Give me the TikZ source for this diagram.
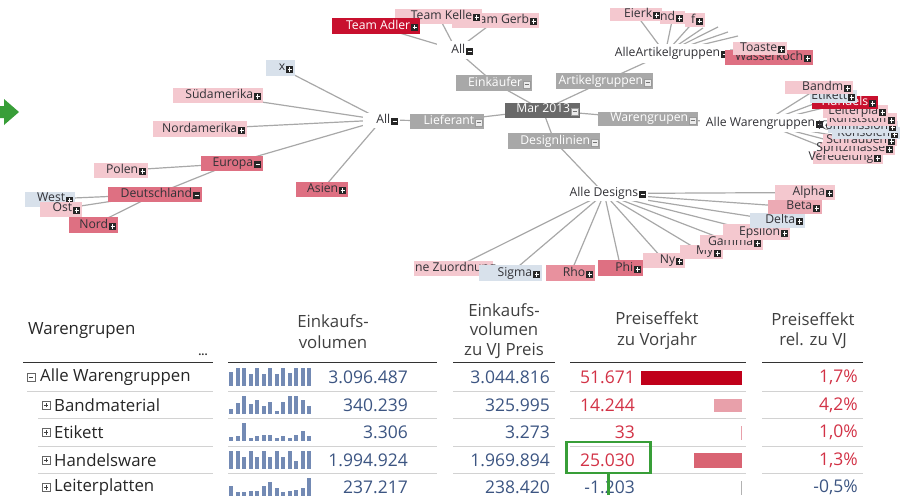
\documentclass[tikz,border=0pt]{standalone}
\usepackage{fontspec}
\setmainfont{Open Sans}
\usetikzlibrary{backgrounds}
\definecolor{cL}{RGB}{244,200,207}
\definecolor{cM}{RGB}{222,112,130}
\definecolor{cD}{RGB}{200,16,46}
\definecolor{cB}{RGB}{216,225,235}
\definecolor{cG}{RGB}{168,168,168}
\definecolor{cK}{RGB}{105,105,105}
\definecolor{cP}{RGB}{236,170,180}
\definecolor{cR}{RGB}{232,145,158}
\definecolor{lineG}{RGB}{168,168,168}
\definecolor{txtD}{RGB}{50,50,55}
\definecolor{valB}{RGB}{60,85,130}
\definecolor{valR}{RGB}{210,50,70}
\definecolor{sparkC}{RGB}{115,138,180}
\definecolor{sepG}{RGB}{210,210,210}
\definecolor{grn}{RGB}{56,158,56}
\definecolor{barD}{RGB}{192,0,26}
\definecolor{barL}{RGB}{232,160,170}
\definecolor{barM}{RGB}{217,100,115}
\newcommand\gfont{\fontsize{12.2}{14}\selectfont}
\newcommand\tfont{\fontsize{16.8}{20.5}\selectfont}
\newcommand\nfont{\fontsize{17.5}{20}\selectfont}
\tikzset{
  gbox/.style={anchor=west,inner sep=0pt,font=\gfont,text=txtD},
  bL/.style={fill=cL,text=txtD}, bM/.style={fill=cM,text=txtD},
  bD/.style={fill=cD,text=white}, bB/.style={fill=cB,text=txtD},
  bG/.style={fill=cG,text=white}, bK/.style={fill=cK,text=white},
  bP/.style={fill=cP,text=txtD}, bR/.style={fill=cR,text=txtD},
  tW/.style={fill=white,text=txtD},
  icoB/.style={minimum size=7pt,inner sep=0pt,fill=black!85},
  pI/.style={icoB,path picture={\draw[white,line width=1.1pt]
     ([xshift=-2.3pt]path picture bounding box.center) -- ([xshift=2.3pt]path picture bounding box.center)
     ([yshift=-2.3pt]path picture bounding box.center) -- ([yshift=2.3pt]path picture bounding box.center);}},
  mI/.style={icoB,path picture={\draw[white,line width=1.1pt]
     ([xshift=-2.3pt]path picture bounding box.center) -- ([xshift=2.3pt]path picture bounding box.center);}},
  mW/.style={minimum size=7pt,inner sep=0pt,fill=white!92!black,draw=white!60!black,line width=0.4pt,
     path picture={\draw[black!55,line width=1pt]
     ([xshift=-2.2pt]path picture bounding box.center) -- ([xshift=2.2pt]path picture bounding box.center);}},
  conn/.style={draw=lineG,line width=1.2pt},
  tlab/.style={font=\tfont,text=black!85,inner sep=0pt},
  tval/.style={font=\nfont,text=valB,inner sep=0pt,anchor=east},
  tred/.style={font=\nfont,text=valR,inner sep=0pt,anchor=east},
  thead/.style={font=\tfont,text=black!75,align=center,inner sep=0pt},
  hline/.style={draw=black!80,line width=1.4pt},
  sline/.style={draw=sepG,line width=1pt},
  tico/.style={minimum size=8pt,inner sep=0pt,draw=black!60,fill=white,line width=0.6pt},
  tP/.style={tico,path picture={\draw[black!75,line width=0.8pt]
     ([xshift=-2.3pt]path picture bounding box.center) -- ([xshift=2.3pt]path picture bounding box.center)
     ([yshift=-2.3pt]path picture bounding box.center) -- ([yshift=2.3pt]path picture bounding box.center);}},
  tM/.style={tico,path picture={\draw[black!75,line width=0.8pt]
     ([xshift=-2.3pt]path picture bounding box.center) -- ([xshift=2.3pt]path picture bounding box.center);}},
  sparkbar/.style={fill=sparkC}
}
% name, x1, yc, width, height, box style, icon style, text
\newcommand\gn[8]{%
  \node[gbox,#6,minimum height=#5pt] (#1) at (#2,#3) {\makebox[#4pt][r]{\vphantom{Ag}#8\hspace{10pt}}};%
  \node[#7] (#1i) at ([xshift=-5.5pt,yshift=-1.2pt]#1.east) {};%
}
\newcommand\spk[2]{\foreach \h [count=\i] in {#2} \fill[sparkbar] ({229+(\i-1)*6.5},#1) rectangle ++(4.2,-\h);}
\begin{document}
\begin{tikzpicture}[x=1pt,y=-1pt]
\path[use as bounding box] (0,0) rectangle (901,495);
% green arrow
\fill[grn] (0,106) -- (4,106) -- (4,99) -- (19,112) -- (4,125) -- (4,118) -- (0,118) -- cycle;
% ---------- left tree
\gn{xN}{266}{68}{29}{16}{bB}{pI}{x}
\gn{sued}{173}{95.5}{90}{15}{bL}{pI}{Südamerika}
\gn{nord}{153}{129}{94}{16}{bL}{pI}{Nordamerika}
\gn{europa}{201}{163.5}{62}{15}{bM}{mI}{Europa}
\gn{asien}{296}{189.5}{52}{15}{bM}{pI}{Asien}
\gn{polen}{94}{170.5}{54}{15}{bL}{pI}{Polen}
\gn{deut}{108}{194.5}{94}{15}{bM}{mI}{Deutschland}
\gn{west}{25}{199}{50}{15}{bB}{pI}{West}
\gn{ost}{40}{209}{42}{15}{bL}{pI}{Ost}
\gn{nordN}{69}{225}{49}{16}{bM}{pI}{Nord}
\gn{allL}{363}{120}{37}{15}{tW}{mI}{All}
% ---------- centre
\gn{lief}{410}{121}{74}{15}{bG}{mW}{Lieferant}
\gn{mar}{505}{110}{75}{15}{bK}{mW}{Mar 2013}
\gn{eink}{456}{83}{76}{16}{bG}{mW}{Einkäufer}
\gn{artg}{556}{81}{97}{16}{bG}{mW}{Artikelgruppen}
\gn{wareng}{598}{119}{100}{14}{bG}{mW}{Warengrupen}
\gn{design}{508}{141}{92}{16}{bG}{mW}{Designlinien}
\gn{allT}{437}{50}{38}{17}{tW}{mI}{All}
% ---------- top teams
\gn{gerb}{452}{20.5}{87}{15}{bL}{pI}{Team Gerb}
\gn{kelle}{395}{16.5}{87}{15}{bL}{pI}{Team Kelle}
\gn{adler}{332}{26}{88}{16}{bD}{pI}{Team Adler}
% ---------- Artikelgruppen
\gn{aag}{600}{53.5}{130}{19}{tW}{mI}{AlleArtikelgruppen}
\gn{eierk}{610}{14.5}{52}{13}{bL}{pI}{Eierk}
\gn{ndN}{660}{17.5}{25}{12}{bL}{pI}{nd}
\gn{fN}{685}{20}{20}{14}{bL}{pI}{f}
\gn{wass}{725}{57.5}{88}{15}{bM}{pI}{Wasserkoch}
\gn{toast}{733}{48.5}{54}{13}{bL}{pI}{Toaste}
\coordinate (a1) at (703,28);
\coordinate (a2) at (718,27);
\coordinate (a3) at (728,32);
\coordinate (a4) at (738,36);
% ---------- Warengruppen
\gn{awg}{700}{123}{125}{18}{tW}{mI}{Alle Warengruppen}
\gn{vered}{813}{157}{70}{13}{bL}{pI}{Veredelung}
\gn{spritz}{820}{148}{75}{13}{bL}{pI}{Spritzmasse}
\gn{schr}{823}{140}{74}{12}{bL}{pI}{Schrauben}
\gn{kons}{832}{133}{68}{12}{bB}{pI}{Konsolen}
\gn{komm}{828}{126.5}{70}{12}{bB}{pI}{Kommission}
\gn{kunst}{827}{119.5}{70}{12}{bL}{pI}{Kunststoff}
\gn{leiter}{823}{111.5}{65}{12}{bL}{pI}{Leiterpla}
\gn{handels}{812}{102.5}{66}{12}{bD}{pI}{Handels}
\gn{etik}{810}{96.5}{47}{12}{bB}{pI}{Etikett}
\gn{bandm}{785}{87.5}{68}{12}{bL}{pI}{Bandm}
% ---------- Designs
\gn{adesign}{560}{193.5}{88}{15}{tW}{mI}{Alle Designs}
\node[gbox,bL,minimum height=15pt] (zuord) at (414,268.5) {\makebox[79pt][l]{\vphantom{Ag}\hspace{1pt}ne Zuordnung}};
\gn{sigma}{479}{273}{63}{16}{bB}{pI}{Sigma}
\gn{rho}{546}{273}{49}{16}{bR}{pI}{Rho}
\gn{phi}{598}{268}{45}{16}{bM}{pI}{Phi}
\gn{ny}{643}{260.5}{42}{15}{bL}{pI}{Ny}
\gn{my}{680}{252}{43}{14}{bL}{pI}{My}
\gn{gamma}{700}{242.5}{63}{15}{bL}{pI}{Gamma}
\gn{eps}{723}{232}{67}{16}{bL}{pI}{Epsilon}
\gn{delta}{750}{220.5}{55}{15}{bB}{pI}{Delta}
\gn{beta}{768}{207}{54}{14}{bP}{pI}{Beta}
\gn{alpha}{775}{192.5}{60}{15}{bL}{pI}{Alpha}
% ---------- connectors
\begin{scope}[on background layer]
\foreach \n in {xN,sued,nord,europa,asien,lief} \draw[conn] (allL.center) -- (\n.center);
\foreach \n in {polen,deut} \draw[conn] (europa.center) -- (\n.center);
\foreach \n in {west,ost,nordN} \draw[conn] (deut.center) -- (\n.center);
\foreach \n in {eink,artg,wareng,design} \draw[conn] (mar.center) -- (\n.center);
\draw[conn] (lief.center) -- (mar.center);
\draw[conn] (eink.center) -- (allT.center);
\foreach \n in {adler,kelle,gerb} \draw[conn] (allT.center) -- (\n.center);
\draw[conn] (artg.center) -- (aag.center);
\foreach \n in {eierk,ndN,fN,a1,a2,a3,a4,toast,wass} \draw[conn] (aag.center) -- (\n.center);
\draw[conn] (wareng.center) -- (awg.center);
\foreach \n in {bandm,etik,handels,leiter,kunst,komm,kons,schr,spritz,vered} \draw[conn] (awg.center) -- (\n.center);
\draw[conn] (design.center) -- (adesign.center);
\foreach \n in {zuord,sigma,rho,phi,ny,my,gamma,eps,delta,beta,alpha} \draw[conn] (adesign.center) -- (\n.center);
\end{scope}
% ---------- table header
\node[tlab,anchor=west] (th1) at (28,331) {Warengrupen};
\node[inner sep=0pt,font=\fontsize{11}{11}\selectfont\bfseries,text=black!80] (tdots) at (203,355) {...};
\node[thead] (th2) at (333,331.5) {Einkaufs-\\volumen};
\node[thead,font=\fontsize{16.8}{19.5}\selectfont] (th3) at (504,331) {Einkaufs-\\volumen\\zu VJ Preis};
\node[thead] (th4) at (657,330.5) {Preiseffekt\\zu Vorjahr};
\node[thead] (th5) at (813,330.5) {Preiseffekt\\rel. zu VJ};
\draw[hline] (23,362.5) -- (213,362.5);
\draw[hline] (228,362.5) -- (437,362.5);
\draw[hline] (453,362.5) -- (555,362.5);
\draw[hline] (570,362.5) -- (746,362.5);
\draw[hline] (762,362.5) -- (863,362.5);
% row separators
\draw[sline] (27,391) -- (213,391);
\foreach \y in {418.5,446,473.5} \draw[sline] (38,\y) -- (213,\y);
\foreach \y in {391,418.5,446,473.5} {
  \draw[sline] (228,\y) -- (437,\y);
  \draw[sline] (453,\y) -- (555,\y);
  \draw[sline] (570,\y) -- (746,\y);
  \draw[sline] (762,\y) -- (863,\y);
}
% rows
\node[tM] (r1i) at (31,377.5) {};
\node[tlab,anchor=west] (r1a) at (40,377.5) {Alle Warengruppen};
\node[tP] (r2i) at (46,405) {};
\node[tlab,anchor=west] (r2a) at (54,405) {Bandmaterial};
\node[tP] (r3i) at (46,432.5) {};
\node[tlab,anchor=west] (r3a) at (54,432.5) {Etikett};
\node[tP] (r4i) at (46,460) {};
\node[tlab,anchor=west] (r4a) at (54,460) {Handelsware};
\node[tP] (r5i) at (46,487.5) {};
\node[tlab,anchor=west] (r5a) at (54,487.5) {Leiterplatten};
% sparklines
\spk{386}{14,18,18,12,18,12,18,12,18,13,18,18,18}
\spk{413.5}{5,11,18,10,14,8,12,3,12,18,18,14,8}
\spk{441}{4,5,18,3,5,6,6,3,5,3,6,10,5}
\spk{468.5}{18,18,12,18,12,18,12,18,12,18,8,18,18}
\spk{496}{10,4,4,5,5,10,14,8,4,5,6,8,18}
% values
\node[tval] (r1b) at (408,377.5) {3.096.487};
\node[tval] (r2b) at (408,405) {340.239};
\node[tval] (r3b) at (408,432.5) {3.306};
\node[tval] (r4b) at (408,460) {1.994.924};
\node[tval] (r5b) at (408,487.5) {237.217};
\node[tval] (r1c) at (550,377.5) {3.044.816};
\node[tval] (r2c) at (550,405) {325.995};
\node[tval] (r3c) at (550,432.5) {3.273};
\node[tval] (r4c) at (550,460) {1.969.894};
\node[tval] (r5c) at (550,487.5) {238.420};
\node[tred] (r1d) at (635,377.5) {51.671};
\node[tred] (r2d) at (635,405) {14.244};
\node[tred] (r3d) at (635,432.5) {33};
\node[tred] (r4d) at (635,460) {25.030};
\node[tval] (r5d) at (635,487.5) {-1.203};
\fill[barD] (641,370.5) rectangle (742,385);
\fill[barL] (714,399) rectangle (742,412);
\fill[barL] (740.5,426) rectangle (742,440);
\fill[barM] (694,453) rectangle (742,468);
\fill[black!30] (741,481) rectangle (742.2,495);
\node[tred] (r1e) at (858,377.5) {1,7\%};
\node[tred] (r2e) at (858,405) {4,2\%};
\node[tred] (r3e) at (858,432.5) {1,0\%};
\node[tred] (r4e) at (858,460) {1,3\%};
\node[tval] (r5e) at (858,487.5) {-0,5\%};
% green highlight
\node[draw=grn,line width=2.6pt,minimum width=84pt,minimum height=31pt,inner sep=0pt] (gbx) at (608.5,457.5) {};
\coordinate (gend) at (608.5,495);
\draw[grn,line width=2.2pt] (gbx.south) -- (gend);
\end{tikzpicture}
\end{document}
